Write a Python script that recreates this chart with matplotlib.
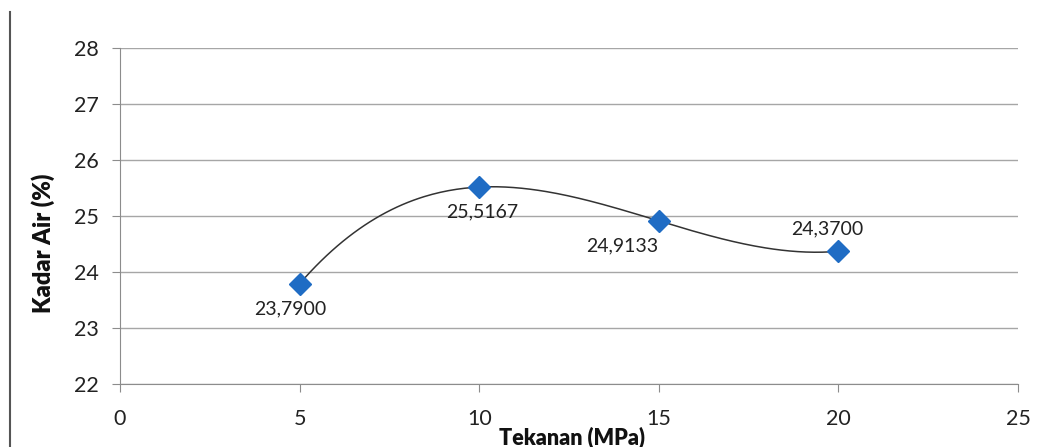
import numpy as np
import matplotlib.pyplot as plt
from matplotlib.lines import Line2D

# data
tekanan = [5, 10, 15, 20]
kadar_air = [23.79, 25.5167, 24.9133, 24.37]
labels = ["23,7900", "25,5167", "24,9133", "24,3700"]
label_offsets = [(-7, -18), (2, -18), (-26, -18), (-8, 16)]  # points

plt.rcParams['font.family'] = ['Lato', 'DejaVu Sans']

fig = plt.figure(figsize=(10.42, 4.47), dpi=100)
ax = fig.add_axes([120/1042, 1 - 384/447, 898/1042, 336/447])

# polynomial trendline (order 3) through the points
coef = np.polyfit(tekanan, kadar_air, 3)
xs = np.linspace(min(tekanan), max(tekanan), 200)
ax.plot(xs, np.polyval(coef, xs), color='#333333', lw=1.1, zorder=3)

ax.plot(tekanan, kadar_air, linestyle='none', marker='D', markersize=11,
        color='#1f6cc4', zorder=4)

for xi, yi, lab, off in zip(tekanan, kadar_air, labels, label_offsets):
    ax.annotate(lab, (xi, yi), xytext=off, textcoords='offset points',
                ha='center', va='center', fontsize=14, color='#222222')

ax.set_xlim(0, 25)
ax.set_ylim(22, 28)
ax.set_xticks(range(0, 26, 5))
ax.set_yticks(range(22, 29))
ax.grid(axis='y', color='#a6a6a6', lw=1)
ax.set_axisbelow(True)
for s in ['top', 'right']:
    ax.spines[s].set_visible(False)
for s in ['left', 'bottom']:
    ax.spines[s].set_color('#8c8c8c')
ax.tick_params(axis='both', direction='out', length=6, color='#8c8c8c',
               labelsize=15.5, labelcolor='#222222')
ax.tick_params(axis='x', pad=12)
ax.tick_params(axis='y', pad=9)

fig.text(572/1042, 1 - 437/447, "Tekanan (MPa)", ha='center', va='center',
         fontsize=15.5, fontweight='heavy', color='#111111')
fig.text(43/1042, 1 - 243/447, "Kadar Air (%)", ha='center', va='center',
         rotation=90, fontsize=17, fontweight='heavy', color='#111111')

# left border line from the source page
fig.add_artist(Line2D([10/1042, 10/1042], [0, 1 - 12/447], color='#555555', lw=1.5))

fig.savefig('out.png', dpi=100)
